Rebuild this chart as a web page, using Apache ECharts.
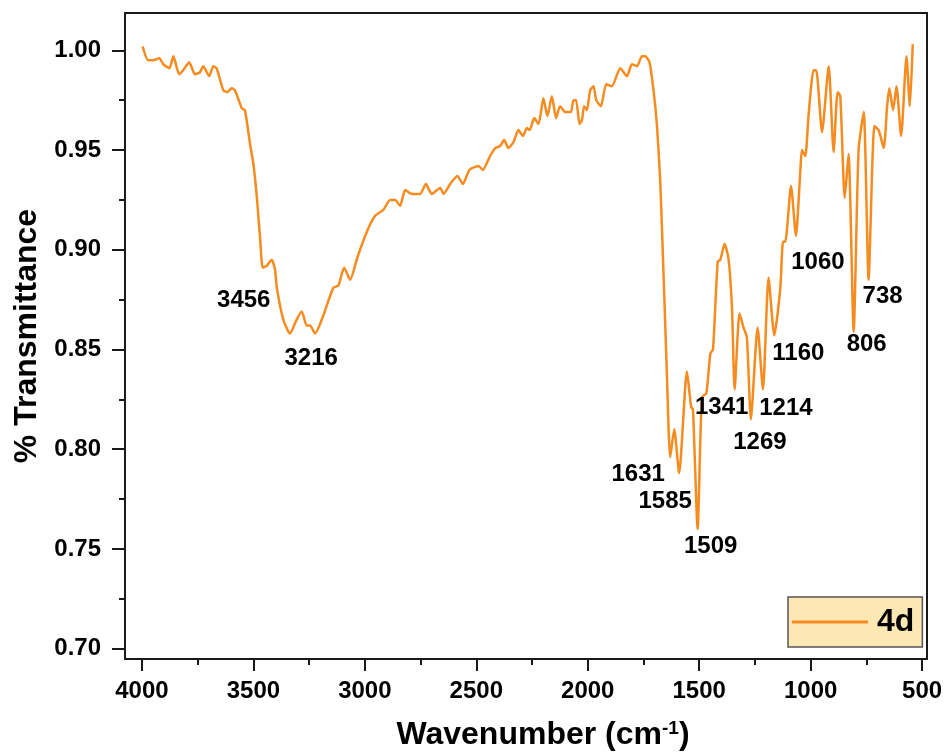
<!DOCTYPE html>
<html>
<head>
<meta charset="utf-8">
<script src="https://cdn.jsdelivr.net/npm/echarts@6/dist/echarts.min.js"></script>
<style>
  html, body { margin: 0; padding: 0; background: #fff; }
  #chart { width: 949px; height: 754px; }
</style>
</head>
<body>
<div id="chart"></div>
<script>
// FTIR spectrum of sample 4d
const wavenumber = [
  3997, 3972, 3949, 3922, 3904, 3877, 3859, 3833, 3815, 3788, 3762, 3740, 3725, 3698, 3680, 3665,
  3635, 3617, 3597, 3583, 3552, 3538, 3515, 3500, 3485, 3470, 3458, 3440, 3418, 3403, 3395, 3366,
  3336, 3306, 3283, 3261, 3246, 3223, 3193, 3141, 3119, 3093, 3066, 3034, 2991, 2954, 2917, 2887,
  2864, 2842, 2819, 2789, 2752, 2726, 2700, 2662, 2647, 2617, 2585, 2560, 2531, 2490, 2471, 2438,
  2415, 2393, 2375, 2356, 2333, 2311, 2291, 2273, 2261, 2240, 2221, 2199, 2181, 2161, 2142, 2124,
  2101, 2076, 2064, 2052, 2037, 2026, 2016, 2004, 1989, 1974, 1962, 1941, 1917, 1892, 1854, 1824,
  1802, 1779, 1757, 1742, 1723, 1705, 1690, 1675, 1660, 1645, 1630, 1612, 1590, 1555, 1536, 1528,
  1507, 1488, 1468, 1450, 1438, 1417, 1405, 1386, 1368, 1353, 1341, 1319, 1301, 1286, 1268, 1238,
  1214, 1189, 1163, 1136, 1124, 1114, 1088, 1066, 1046, 1039, 1024, 1009, 987, 975, 949, 919,
  897, 879, 867, 847, 830, 807, 785, 762, 740, 714, 695, 672, 657, 647, 630, 615,
  594, 570, 555, 542
];
const transmittance = [
  1.002, 0.995, 0.995, 0.996, 0.993, 0.991, 0.997, 0.988, 0.990, 0.994, 0.988, 0.989, 0.992, 0.987, 0.992, 0.991,
  0.980, 0.979, 0.981, 0.980, 0.971, 0.970, 0.953, 0.943, 0.927, 0.906, 0.891, 0.892, 0.895, 0.890, 0.881, 0.865,
  0.858, 0.865, 0.869, 0.862, 0.862, 0.858, 0.865, 0.881, 0.882, 0.891, 0.885, 0.896, 0.909, 0.917, 0.920, 0.925,
  0.925, 0.922, 0.930, 0.928, 0.928, 0.933, 0.928, 0.931, 0.928, 0.933, 0.937, 0.933, 0.940, 0.942, 0.940, 0.947,
  0.951, 0.952, 0.955, 0.951, 0.954, 0.960, 0.957, 0.961, 0.960, 0.966, 0.963, 0.976, 0.967, 0.977, 0.966, 0.972,
  0.969, 0.969, 0.975, 0.975, 0.963, 0.965, 0.972, 0.970, 0.980, 0.982, 0.975, 0.972, 0.983, 0.982, 0.991, 0.987,
  0.993, 0.992, 0.997, 0.997, 0.994, 0.980, 0.963, 0.935, 0.888, 0.838, 0.796, 0.810, 0.788, 0.839, 0.821, 0.820,
  0.760, 0.826, 0.828, 0.848, 0.850, 0.894, 0.895, 0.903, 0.895, 0.871, 0.830, 0.868, 0.861, 0.856, 0.815, 0.861,
  0.830, 0.886, 0.857, 0.881, 0.904, 0.904, 0.932, 0.907, 0.940, 0.950, 0.947, 0.968, 0.990, 0.990, 0.959, 0.992,
  0.949, 0.979, 0.977, 0.926, 0.948, 0.859, 0.950, 0.969, 0.885, 0.962, 0.960, 0.951, 0.972, 0.981, 0.970, 0.982,
  0.957, 0.997, 0.972, 1.003
];
const seriesName = '4d';
const peakLabels = [3456, 3216, 1631, 1585, 1509, 1341, 1269, 1214, 1160, 1060, 806, 738];

const xMajorTicks = [4000, 3500, 3000, 2500, 2000, 1500, 1000, 500];
const xMinorTicks = [3750, 3250, 2750, 2250, 1750, 1250, 750];
const yMajorTicks = [0.70, 0.75, 0.80, 0.85, 0.90, 0.95, 1.00];
const yMinorTicks = [0.725, 0.775, 0.825, 0.875, 0.925, 0.975];

// where each peak label sits relative to its trough (pixels)
const labelOffsets = {
  3456: [-19, 33], 3216: [-4, 25], 1631: [-32, 17], 1585: [-14, 28],
  1509: [13, 17], 1341: [-13, 18], 1269: [9, 23], 1214: [23, 19],
  1160: [24, 18], 1060: [22, 27], 806: [13, 13], 738: [14, 17]
};

const FONT = "'Liberation Sans', Arial, Helvetica, sans-serif";
const INK = '#000';
const LINE = '#f68b1f';
const X_RANGE = [478, 4076];
const Y_RANGE = [0.6948, 1.0187];

const lineData = wavenumber.map((w, i) => [w, transmittance[i]]);

function troughAt(w) {
  let best = 0;
  for (let i = 1; i < wavenumber.length; i++) {
    if (Math.abs(wavenumber[i] - w) < Math.abs(wavenumber[best] - w)) best = i;
  }
  return [wavenumber[best], transmittance[best]];
}

const peakData = peakLabels.map(p => ({
  value: troughAt(p),
  name: String(p),
  label: { offset: labelOffsets[p] }
}));

const baseX = {
  type: 'value', inverse: true, min: X_RANGE[0], max: X_RANGE[1],
  splitLine: { show: false }, gridIndex: 0
};
const baseY = {
  type: 'value', min: Y_RANGE[0], max: Y_RANGE[1],
  splitLine: { show: false }, gridIndex: 0
};

const chart = echarts.init(document.getElementById('chart'));
chart.setOption({
  animation: false,
  backgroundColor: '#fff',
  grid: {
    left: 125, right: 22, top: 13, bottom: 95,
    show: true, borderColor: '#1a1a1a', borderWidth: 2,
    outerBoundsMode: 'none'
  },
  xAxis: [
    Object.assign({}, baseX, {
      position: 'bottom',
      name: 'Wavenumber (cm{sup|-1})',
      nameLocation: 'middle', nameGap: 60,
      nameTextStyle: {
        fontFamily: FONT, fontSize: 32, fontWeight: 'bold', color: INK,
        padding: [0, 0, 0, 34],
        rich: { sup: { fontFamily: FONT, fontSize: 19, fontWeight: 'bold', color: INK, verticalAlign: 'top', padding: [0, 0, 14, 0] } }
      },
      axisLine: { show: true, lineStyle: { color: '#1a1a1a', width: 2 } },
      axisTick: { show: true, inside: false, length: 12, customValues: xMajorTicks, lineStyle: { color: '#1a1a1a', width: 2 } },
      axisLabel: {
        show: true, customValues: xMajorTicks, margin: 20,
        formatter: v => String(v),
        fontFamily: FONT, fontSize: 24, fontWeight: 'bold', color: INK
      }
    }),
    Object.assign({}, baseX, {
      position: 'bottom',
      axisLine: { show: false },
      axisTick: { show: true, inside: false, length: 6, customValues: xMinorTicks, lineStyle: { color: '#1a1a1a', width: 2 } },
      axisLabel: { show: false }
    })
  ],
  yAxis: [
    Object.assign({}, baseY, {
      position: 'left',
      name: '% Transmittance',
      nameLocation: 'middle', nameGap: 78, nameRotate: 90,
      nameTextStyle: { fontFamily: FONT, fontSize: 32, fontWeight: 'bold', color: INK },
      axisLine: { show: true, lineStyle: { color: '#1a1a1a', width: 2 } },
      axisTick: { show: true, inside: false, length: 13, customValues: yMajorTicks, lineStyle: { color: '#1a1a1a', width: 2 } },
      axisLabel: {
        show: true, customValues: yMajorTicks, margin: 24,
        formatter: v => v.toFixed(2),
        fontFamily: FONT, fontSize: 24, fontWeight: 'bold', color: INK
      }
    }),
    Object.assign({}, baseY, {
      position: 'left',
      axisLine: { show: false },
      axisTick: { show: true, inside: false, length: 6, customValues: yMinorTicks, lineStyle: { color: '#1a1a1a', width: 2 } },
      axisLabel: { show: false }
    })
  ],
  legend: {
    left: 788, top: 597,
    orient: 'horizontal',
    backgroundColor: '#fde8b4', borderColor: '#555', borderWidth: 1.5, borderRadius: 0,
    padding: [9, 8, 9, 4],
    icon: 'rect', itemWidth: 76, itemHeight: 3, itemGap: 5,
    textStyle: { fontFamily: FONT, fontSize: 32, fontWeight: 'bold', color: INK, padding: [0, 0, 0, 4] },
    data: [{ name: seriesName, itemStyle: { color: LINE } }]
  },
  series: [
    {
      name: seriesName, type: 'line', data: lineData,
      xAxisIndex: 0, yAxisIndex: 0,
      showSymbol: false, symbol: 'none', smooth: 0.2,
      lineStyle: { color: LINE, width: 2.5 },
      itemStyle: { color: LINE },
      z: 3
    },
    {
      name: 'peaks', type: 'scatter', data: peakData,
      xAxisIndex: 0, yAxisIndex: 0,
      symbolSize: 0, silent: true, z: 5,
      itemStyle: { color: 'transparent', opacity: 1 },
      label: {
        show: true, position: 'inside', formatter: '{b}', opacity: 1,
        fontFamily: FONT, fontSize: 24, fontWeight: 'bold', color: INK,
        textBorderWidth: 0, textBorderColor: 'transparent'
      }
    }
  ]
});
</script>
</body>
</html>
